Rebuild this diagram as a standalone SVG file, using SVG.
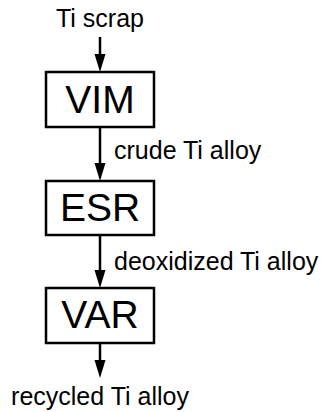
<svg xmlns="http://www.w3.org/2000/svg" width="324" height="412" viewBox="0 0 324 412">
<style>
.box{fill:#fff;stroke:#000;stroke-width:2.5}
.big{font-family:"Liberation Sans",Arial,sans-serif;font-size:39px;fill:#000;text-anchor:middle}
.lbl{font-family:"Liberation Sans",Arial,sans-serif;font-size:25px;fill:#000}
.edge{stroke:#000;stroke-width:2.5;fill:none}
</style>
<defs>
<marker id="ah" markerUnits="userSpaceOnUse" markerWidth="18" markerHeight="11" refX="0" refY="5.5" orient="auto" overflow="visible">
<path d="M0,0 L18,5.5 L0,11 z" fill="#000"/>
</marker>
</defs>
<rect width="324" height="412" fill="#fff"/>
<g id="connectors">
<line class="edge" x1="100" y1="37" x2="100" y2="54" marker-end="url(#ah)"/>
<line class="edge" x1="100" y1="127" x2="100" y2="163" marker-end="url(#ah)"/>
<line class="edge" x1="100" y1="235" x2="100" y2="270" marker-end="url(#ah)"/>
<line class="edge" x1="100" y1="343" x2="100" y2="360" marker-end="url(#ah)"/>
</g>
<g id="ti-scrap"><text class="lbl" x="100" y="27" text-anchor="middle">Ti scrap</text></g>
<g id="vim"><rect class="box" x="46" y="72" width="108" height="55"/><text class="big" x="100" y="113">VIM</text></g>
<g id="crude-label"><text class="lbl" x="114" y="159">crude Ti alloy</text></g>
<g id="esr"><rect class="box" x="46" y="181" width="108" height="54"/><text class="big" x="100" y="221">ESR</text></g>
<g id="deox-label"><text class="lbl" x="114" y="270">deoxidized Ti alloy</text></g>
<g id="var"><rect class="box" x="46" y="288" width="108" height="55"/><text class="big" x="100" y="328">VAR</text></g>
<g id="recycled"><text class="lbl" x="100" y="405" text-anchor="middle">recycled Ti alloy</text></g>
</svg>
